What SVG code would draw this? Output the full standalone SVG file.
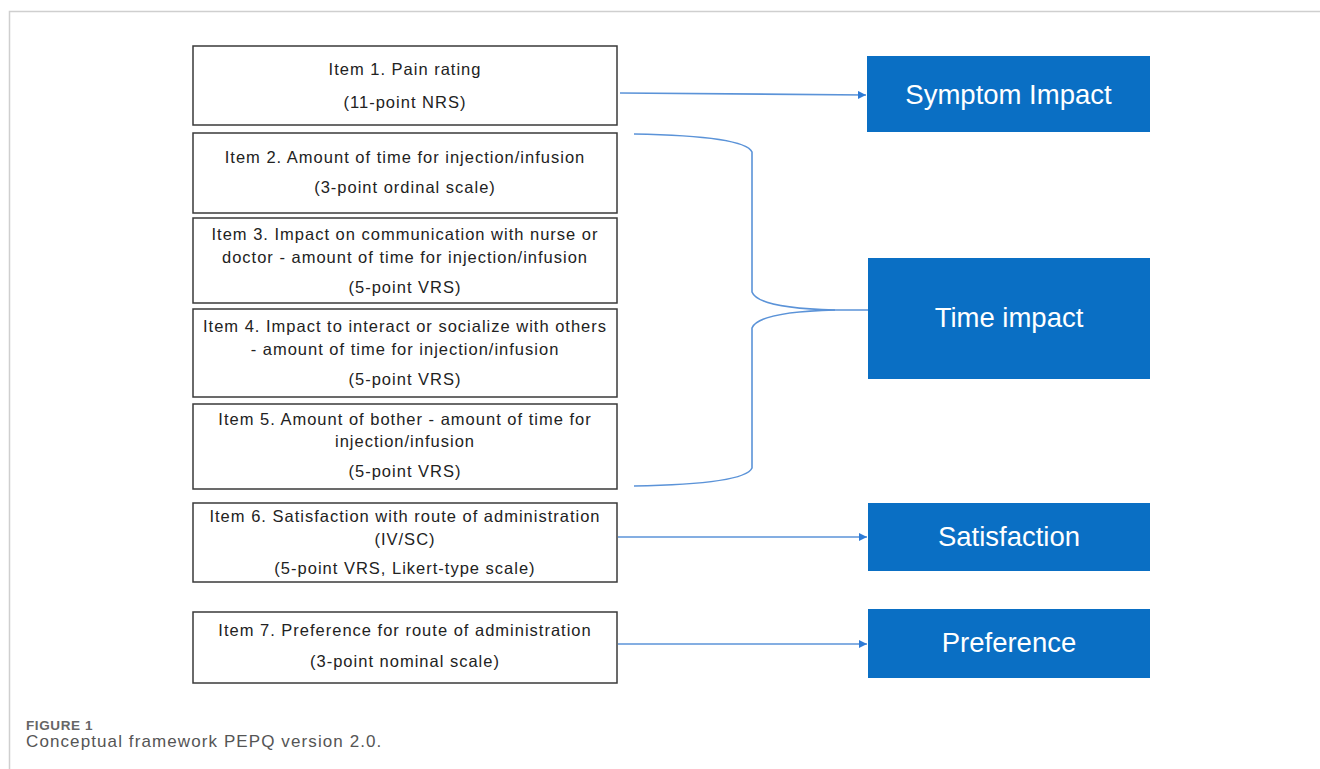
<svg xmlns="http://www.w3.org/2000/svg" width="1320" height="769" viewBox="0 0 1320 769">
<defs>
<style>
.frame{stroke:#cfcfcf;stroke-width:1.5;fill:none}
.item rect{fill:#fff;stroke:#3a3a3a;stroke-width:1.5}
.item text{font-family:"Liberation Sans",Arial,sans-serif;font-size:16.5px;letter-spacing:1px;fill:#222;text-anchor:middle}
.dom rect{fill:#0A6FC4}
.dom text{font-family:"Liberation Sans",Arial,sans-serif;font-size:27.5px;fill:#fff;text-anchor:middle}
.conn{stroke:#5B93D8;stroke-width:1.6;fill:none}
.cap1{font-family:"Liberation Sans",Arial,sans-serif;font-size:13.5px;font-weight:bold;letter-spacing:0.6px;fill:#666}
.cap2{font-family:"Liberation Sans",Arial,sans-serif;font-size:17px;letter-spacing:1.1px;fill:#555}
</style>
<marker id="arr" viewBox="0 0 10 10" refX="10" refY="5" markerWidth="5" markerHeight="5" orient="auto" markerUnits="strokeWidth">
<path d="M0,0 L10,5 L0,10 z" fill="#2E7BD6"/>
</marker>
</defs>
<rect width="1320" height="769" fill="#fff"/>
<path class="frame" d="M9.5,769 V11.5 H1320"/>

<g id="item1" class="item"><rect x="193" y="46" width="424" height="79"/>
<text x="405" y="75">Item 1. Pain rating</text><text x="405" y="108">(11-point NRS)</text></g>
<g id="item2" class="item"><rect x="193" y="133" width="424" height="80"/>
<text x="405" y="163">Item 2. Amount of time for injection/infusion</text><text x="405" y="193">(3-point ordinal scale)</text></g>
<g id="item3" class="item"><rect x="193" y="218" width="424" height="85"/>
<text x="405" y="240">Item 3. Impact on communication with nurse or</text><text x="405" y="263">doctor - amount of time for injection/infusion</text><text x="405" y="293">(5-point VRS)</text></g>
<g id="item4" class="item"><rect x="193" y="309" width="424" height="88"/>
<text x="405" y="332">Item 4. Impact to interact or socialize with others</text><text x="405" y="355">- amount of time for injection/infusion</text><text x="405" y="385">(5-point VRS)</text></g>
<g id="item5" class="item"><rect x="193" y="404" width="424" height="85"/>
<text x="405" y="425">Item 5. Amount of bother - amount of time for</text><text x="405" y="447">injection/infusion</text><text x="405" y="477">(5-point VRS)</text></g>
<g id="item6" class="item"><rect x="193" y="503" width="424" height="79"/>
<text x="405" y="522">Item 6. Satisfaction with route of administration</text><text x="405" y="545">(IV/SC)</text><text x="405" y="574">(5-point VRS, Likert-type scale)</text></g>
<g id="item7" class="item"><rect x="193" y="612" width="424" height="71"/>
<text x="405" y="636">Item 7. Preference for route of administration</text><text x="405" y="667">(3-point nominal scale)</text></g>

<g id="symptom" class="dom"><rect x="867" y="56" width="283" height="76"/><text x="1008.5" y="104">Symptom Impact</text></g>
<g id="time" class="dom"><rect x="868" y="258" width="282" height="121"/><text x="1009" y="327">Time impact</text></g>
<g id="satisfaction" class="dom"><rect x="868" y="503" width="282" height="68"/><text x="1009" y="546">Satisfaction</text></g>
<g id="preference" class="dom"><rect x="868" y="609" width="282" height="69"/><text x="1009" y="652">Preference</text></g>

<g id="connectors">
<path class="conn" d="M620,93 L866,95" marker-end="url(#arr)"/>
<path class="conn" d="M634,134 Q745,136 752,152 V292 Q758,308 835,310 H868"/>
<path class="conn" d="M835,310 Q758,312 752,328 V468 Q745,484 634,486"/>
<path class="conn" d="M618,537 H867" marker-end="url(#arr)"/>
<path class="conn" d="M618,644 H867" marker-end="url(#arr)"/>
</g>

<text class="cap1" x="26" y="730">FIGURE 1</text>
<text class="cap2" x="26" y="747">Conceptual framework PEPQ version 2.0.</text>
</svg>
